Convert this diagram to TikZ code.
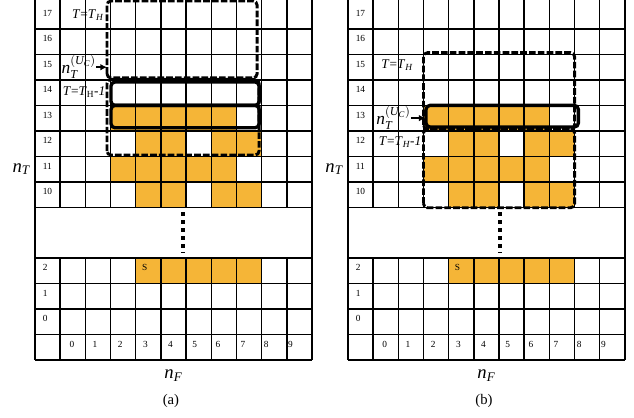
\documentclass[tikz,border=0pt]{standalone}
\usepackage{amsmath}
\usepackage{fontspec}
\setmainfont{Liberation Serif}
\usetikzlibrary{positioning, arrows.meta, calc}

\definecolor{cellorange}{RGB}{245,181,55}

\tikzset{
  cell/.style={fill=cellorange, draw=none},
  gridline/.style={line width=1.1pt, black},
  dashbox/.style={line width=2.2pt, dash pattern=on 5pt off 1.6pt, rounded corners=3pt},
  solidbox/.style={line width=2.5pt, rounded corners=3pt},
  dotline/.style={line width=3pt, dash pattern=on 3pt off 3pt},
  numlabel/.style={font=\fontsize{7}{8}\selectfont, inner sep=0pt},
  tlabel/.style={font=\fontsize{10}{12}\selectfont, inner sep=0pt},
  uclabel/.style={font=\fontsize{13}{15}\selectfont, inner sep=0pt},
  axlabel/.style={font=\fontsize{14}{16}\selectfont, inner sep=0pt},
  ucarrow/.style={-{Latex[length=5pt,width=5pt]}, line width=1.4pt}
}

\begin{document}
\begin{tikzpicture}[x=18.885pt, y=19.095pt, >=latex]
  \useasboundingbox (-1.39,-2.24) rectangle (23.79,14.14);

  % the two grids
  \foreach \p/\dx in {a/0, b/12.43} {
    \begin{scope}[shift={(\dx,0)}]
      % filled cells
      \foreach \c/\r in {3/9,4/9,5/9,6/9,7/9, 4/8,5/8,7/8,8/8,
                         3/7,4/7,5/7,6/7,7/7, 4/6,5/6,7/6,8/6,
                         4/3,5/3,6/3,7/3,8/3}
        \fill[cell] (\c,\r) rectangle ++(1,1);
      % lines
      \foreach \r in {0,1,2,3,4,6,7,8,9,10,11,12,13}
        \draw[gridline] (0,\r) -- (11,\r);
      \foreach \c in {1,...,10} {
        \draw[gridline] (\c,0) -- (\c,4);
        \draw[gridline] (\c,6) -- (\c,14.14);
      }
      \draw[gridline] (0,0) -- (0,14.14);
      \draw[gridline] (11,0) -- (11,14.14);
      % row and column numbers
      \foreach \r/\t in {1/0,2/1,3/2,6/10,7/11,8/12,9/13,10/14,11/15,12/16,13/17}
        \node[numlabel, anchor=west] (row-\p-\t) at (0.3,\r+0.62) {\t};
      \foreach \k/\o in {0/0.36,1/0.28,2/0.28,3/0.28,4/0.28,5/0.24,6/0.16,7/0.16,8/0.08,9/0.04}
        \node[numlabel, anchor=west] (col-\p-\k) at (\k+1+\o,0.6) {\k};
      \node[numlabel, anchor=west] (start-\p) at (4.24,3.62) {S};
      % axes
      \node[axlabel] (nt-\p) at (-0.55,7.5) {$\textit{n}_{\textit{T}}$};
      \node[axlabel] (nf-\p) at (5.5,-0.6) {$\textit{n}_{\textit{F}}$};
      \node[font=\fontsize{11}{13}\selectfont] (caption-\p) at (5.4,-1.61) {(\p)};
    \end{scope}
  }

  % panel (a)
  \draw[dashbox] (2.86,11.08) rectangle (8.82,14.1);
  \draw[dashbox] (2.86,8.05) rectangle (8.9,11.02);
  \draw[solidbox] (3.02,10.0) rectangle (8.9,10.92);
  \draw[solidbox] (3.02,9.12) rectangle (8.9,10.0);
  \node[tlabel] (tha) at (2.1,13.55) {\textit{T}=\textit{T}$_{\textit{H}}$};
  \node[tlabel] (thonea) at (1.95,10.52) {\textit{T}=\textit{T}$_{\textup{H}}$-\textit{1}};
  \node[uclabel, anchor=west] (uca) at (1.05,11.5) {$\textit{n}_{\textit{T}}^{(\textit{U}_{\textit{C}})}$};
  \coordinate (uctipa) at (2.86,11.5);
  \draw[ucarrow] (uca.east) -- (uctipa);
  \coordinate (dottopa) at (5.88,5.8);
  \coordinate (dotbota) at (5.88,4.2);
  \draw[dotline] (dottopa) -- (dotbota);

  % panel (b)
  \begin{scope}[shift={(12.43,0)}]
    \draw[dashbox] (3.0,9.07) rectangle (9.0,12.07);
    \draw[dashbox] (3.0,5.98) rectangle (9.0,9.07);
    \draw[solidbox] (3.1,9.15) rectangle (9.15,10.0);
    \node[tlabel] (thb) at (1.95,11.59) {\textit{T}=\textit{T}$_{\textit{H}}$};
    \node[tlabel] (thoneb) at (2.07,8.56) {\textit{T}=\textit{T}$_{\textit{H}}$-\textit{1}};
    \node[uclabel, anchor=west] (ucb) at (1.12,9.5) {$\textit{n}_{\textit{T}}^{(\textit{U}_{\textit{C}})}$};
    \coordinate (uctipb) at (3.08,9.5);
    \draw[ucarrow] (ucb.east) -- (uctipb);
    \coordinate (dottopb) at (6.04,5.8);
    \coordinate (dotbotb) at (6.04,4.2);
    \draw[dotline] (dottopb) -- (dotbotb);
  \end{scope}
\end{tikzpicture}
\end{document}
